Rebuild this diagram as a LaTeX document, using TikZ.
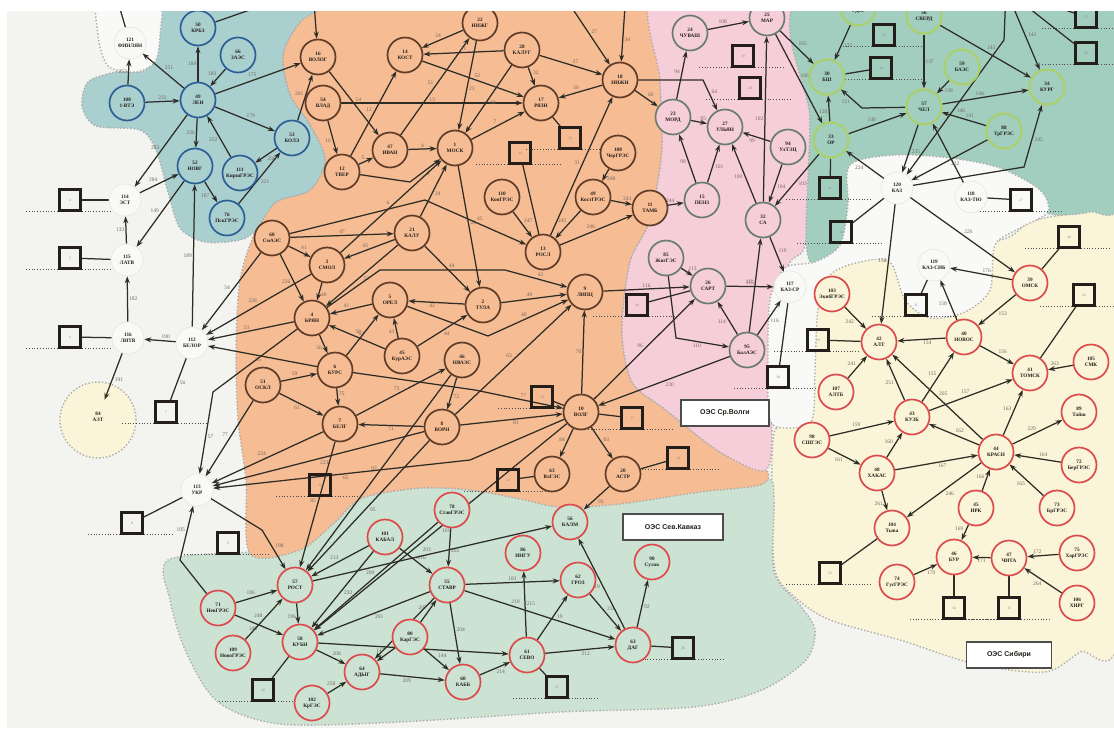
\documentclass[tikz,border=0pt]{standalone}
\usepackage{fontspec}
\setmainfont{Liberation Serif}
\setsansfont{Liberation Sans}
\usetikzlibrary{arrows.meta}
\definecolor{cBg}{RGB}{243,243,240}
\definecolor{cBl}{RGB}{170,207,207}
\definecolor{cOr}{RGB}{246,188,148}
\definecolor{cPk}{RGB}{246,206,218}
\definecolor{cGt}{RGB}{162,206,192}
\definecolor{cYe}{RGB}{250,244,216}
\definecolor{cGb}{RGB}{204,226,210}
\definecolor{cWh}{RGB}{249,249,248}
\definecolor{rBl}{RGB}{45,95,150}
\definecolor{rOr}{RGB}{95,60,40}
\definecolor{rPk}{RGB}{105,125,110}
\definecolor{rGt}{RGB}{170,208,110}
\definecolor{rRd}{RGB}{220,75,75}
\definecolor{cLn}{RGB}{45,45,38}
\definecolor{cLb}{RGB}{115,105,95}
\definecolor{cTx}{RGB}{35,30,25}
\pgfdeclarelayer{bg}
\pgfdeclarelayer{edges}
\pgfsetlayers{bg,edges,main}
\begin{document}
\begin{tikzpicture}[x=1pt,y=-1pt,
  nd/.style={circle,minimum size=35pt,inner sep=0pt,align=center,text=cTx,font=\fontsize{5.2}{5.8}\selectfont\bfseries,line width=1.7pt},
  bn/.style={nd,draw=rBl,fill=cBl},
  on/.style={nd,draw=rOr,fill=cOr},
  pn/.style={nd,draw=rPk,fill=cPk},
  gn/.style={nd,draw=rGt,fill=cGt,line width=2.2pt},
  rn/.style={nd,draw=rRd,fill=cYe},
  kn/.style={nd,draw=rRd,fill=cGb},
  wn/.style={nd,fill=cWh,draw=gray!20,line width=.6pt,minimum size=32pt},
  sq/.style={draw=cTx,line width=2.6pt,minimum size=21pt,inner sep=0pt,text=gray,font=\fontsize{3.5}{4}\selectfont},
  ar/.style={draw=cLn,line width=1.25pt,-{Stealth[length=7pt,width=5pt]}},
  ln/.style={draw=cLn,line width=1.25pt},
  lb/.style={auto,inner sep=1pt,text=cLb,font=\fontsize{5.5}{6}\selectfont},
  reg/.style={draw=gray!65,line width=1.4pt,dotted},
  sul/.style={draw=gray!60!black,line width=.8pt,dotted},
  box/.style={draw=gray!60!black,line width=1.3pt,fill=white,text=cTx,minimum height=26pt,font=\sffamily\bfseries\fontsize{7}{8}\selectfont}]
\useasboundingbox (0,0) rectangle (1114,731);

% regions
\begin{pgfonlayer}{bg}
\fill[cBg] (0,0) rectangle (1114,731);
\draw[reg,fill=cYe] plot[smooth cycle,tension=.5] coordinates {(812,268) (860,250) (905,245) (1000,240) (1030,222) (1070,214) (1120,212) (1120,628) (1080,652) (1045,672) (975,664) (900,640) (830,620) (796,598) (775,570) (772,490) (775,430) (800,420) (810,330)};
\draw[reg,fill=cGb] plot[smooth cycle,tension=.5] coordinates {(168,560) (250,552) (300,548) (335,522) (362,498) (420,488) (470,490) (520,498) (560,506) (620,502) (700,490) (766,478) (774,500) (774,572) (800,605) (815,630) (806,660) (762,690) (694,707) (560,712) (400,722) (280,724) (218,702) (186,652) (170,600)};
\draw[reg,fill=cOr] plot[smooth cycle,tension=.5] coordinates {(335,-8) (656,-8) (660,80) (662,150) (650,220) (630,262) (622,330) (632,382) (666,410) (720,452) (766,470) (760,485) (700,492) (620,504) (560,507) (520,499) (470,490) (420,488) (362,498) (335,522) (300,550) (250,554) (246,480) (238,420) (236,350) (240,280) (256,230) (276,202) (310,190) (325,160) (310,125) (290,95) (283,55) (300,22)};
\draw[reg,fill=cPk] plot[smooth cycle,tension=.5] coordinates {(656,-8) (810,-8) (810,120) (806,240) (790,262) (772,300) (770,360) (772,420) (766,470) (720,452) (666,410) (632,382) (622,330) (630,262) (650,220) (662,150) (660,80)};
\draw[reg,fill=cGt] plot[smooth cycle,tension=.5] coordinates {(808,-8) (1120,-8) (1120,198) (1090,212) (1050,214) (1030,195) (990,168) (940,158) (890,158) (858,170) (848,200) (846,240) (832,266) (815,268) (806,240) (810,120)};
\draw[reg,fill=cBl] plot[smooth cycle,tension=.5] coordinates {(150,-8) (335,-8) (300,22) (283,55) (290,95) (310,125) (325,160) (310,190) (276,202) (256,230) (240,240) (205,242) (180,228) (168,192) (156,150) (140,130) (96,126) (82,106) (88,82) (115,72) (150,66)};
\draw[reg,fill=cWh] plot[smooth cycle,tension=.5] coordinates {(100,-8) (158,-8) (160,35) (155,62) (135,72) (108,66) (98,35)};
\draw[reg,fill=cWh] plot[smooth cycle,tension=.5] coordinates {(850,165) (895,155) (950,158) (1000,168) (1040,190) (1048,212) (1020,228) (995,245) (990,290) (965,312) (930,318) (905,300) (890,262) (860,262) (830,275) (818,310) (815,370) (812,420) (790,428) (770,420) (768,360) (770,300) (785,268) (815,262) (840,245) (848,205)};
\draw[reg,fill=cYe] (98,420) circle (38pt);
\end{pgfonlayer}

% nodes
\node[bn] (pt0) at (313,-12) {};
\node[bn] (n50) at (198,28) {50\\КРБЗ};
\node[bn] (n66) at (238,55) {66\\ЗАЭС};
\node[bn] (n49) at (198,100) {49\\ЛЕН};
\node[bn] (n100) at (127,103) {100\\1-ВТЭ};
\node[bn] (n52) at (195,166) {52\\НОВГ};
\node[bn] (n53) at (292,138) {53\\КОЛЭ};
\node[bn] (n111) at (240,173) {111\\КиршГРЭС};
\node[bn] (n76) at (227,218) {76\\ПскГРЭС};
\node[wn] (n121) at (130,43) {121\\ФИНЛЯН};
\node[wn] (n114) at (125,200) {114\\ЭСТ};
\node[wn] (n115) at (127,260) {115\\ЛАТВ};
\node[wn] (n116) at (128,338) {116\\ЛИТВ};
\node[wn] (n112) at (192,343) {112\\БЕЛОР};
\node[wn] (n113) at (197,490) {113\\УКР};
\node[nd] (n84) at (98,417) {84\\АЭТ};
\node[wn] (n120) at (897,188) {120\\КАЗ};
\node[wn] (n118) at (971,197) {118\\КАЗ-ТЮ};
\node[wn] (n119) at (934,265) {119\\КАЗ-СИБ};
\node[wn] (n117) at (790,287) {117\\КАЗ-СР};

\node[on] (n16) at (318,57) {16\\ВОЛОГ};
\node[on] (n14) at (405,55) {14\\КОСТ};
\node[on] (n22) at (480,23) {22\\НИЖГ};
\node[on] (n28) at (522,50) {28\\КАЛУГ};
\node[on] (pt1) at (560,-10) {};
\node[on] (pt2) at (626,-8) {};
\node[on] (n54) at (323,103) {54\\ВЛАД};
\node[on] (n47) at (390,150) {47\\ИВАН};
\node[on] (n12) at (342,172) {12\\ТВЕР};
\node[on] (n1) at (455,148) {1\\МОСК};
\node[on] (n17) at (541,103) {17\\РЯЗН};
\node[on] (n18) at (620,80) {18\\НИЖН};
\node[on] (n108) at (618,153) {108\\ЧерГРЭС};
\node[on] (n49k) at (593,197) {49\\КостГРЭС};
\node[on] (n110) at (502,197) {110\\КонГРЭС};
\node[on] (n11) at (650,208) {11\\ТАМБ};
\node[on] (n13) at (543,252) {13\\РОСЛ};
\node[on] (n60) at (272,238) {60\\СмАЭС};
\node[on] (n21) at (412,233) {21\\КАЛУ};
\node[on] (n3) at (327,265) {3\\СМОЛ};
\node[on] (n2) at (483,305) {2\\ТУЛА};
\node[on] (n5) at (390,300) {5\\ОРЕЛ};
\node[on] (n4) at (312,318) {4\\БРЯН};
\node[on] (n45k) at (402,356) {45\\КурАЭС};
\node[on] (n6) at (335,370) {6\\КУРС};
\node[on] (n51) at (263,385) {51\\ОСКЛ};
\node[on] (n46n) at (462,360) {46\\НВАЭС};
\node[on] (n7) at (340,424) {7\\БЕЛГ};
\node[on] (n8) at (442,427) {8\\ВОРН};
\node[on] (n9) at (585,292) {9\\ЛИПЦ};
\node[on] (n10) at (581,412) {10\\ВОЛГ};
\node[on] (n20) at (623,474) {20\\АСТР};
\node[on] (n63v) at (552,474) {63\\ВлГЭС};

\node[pn] (n24) at (690,33) {24\\ЧУВАШ};
\node[pn] (n25) at (767,18) {25\\МАР};
\node[pn] (n23) at (673,117) {23\\МОРД};
\node[pn] (n27) at (725,127) {27\\УЛЬЯН};
\node[pn] (n94) at (788,147) {94\\УлТЭЦ};
\node[pn] (n15) at (702,200) {15\\ПЕНЗ};
\node[pn] (n32) at (763,220) {32\\СА};
\node[pn] (n85) at (666,258) {85\\ЖигГЭС};
\node[pn] (n26) at (708,286) {26\\САРТ};
\node[pn] (n95) at (747,350) {95\\БалАЭС};

\node[gn] (n58u) at (858,8) {58\\УДМ};
\node[gn] (n56) at (924,16) {56\\СВЕРД};
\node[gn] (pt3) at (1006,-10) {};
\node[gn] (n30) at (827,77) {30\\БШ};
\node[gn] (n59) at (962,67) {59\\БАЭС};
\node[gn] (n57) at (924,107) {57\\ЧЕЛ};
\node[gn] (n34) at (1047,87) {34\\КУРГ};
\node[gn] (n88) at (1004,131) {88\\ТрГРЭС};
\node[gn] (n33) at (831,140) {33\\ОР};

\node[rn] (n39) at (1030,283) {39\\ОМСК};
\node[rn] (n103) at (832,294) {103\\ЭкибГРЭС};
\node[rn] (n42) at (879,342) {42\\АЛТ};
\node[rn] (n40) at (964,337) {40\\НОВОС};
\node[rn] (n41) at (1030,373) {41\\ТОМСК};
\node[rn] (n105) at (1091,362) {105\\СМК};
\node[rn] (n107) at (836,392) {107\\АЛТБ};
\node[rn] (n43) at (912,417) {43\\КУЗБ};
\node[rn] (n89) at (1079,412) {89\\Тайш};
\node[rn] (n98) at (812,440) {98\\СШГЭС};
\node[rn] (n48) at (877,473) {48\\ХАКАС};
\node[rn] (n44) at (996,452) {44\\КРАСН};
\node[rn] (n72) at (1079,465) {72\\БерГРЭС};
\node[rn] (n45) at (976,508) {45\\ИРК};
\node[rn] (n73) at (1057,508) {73\\БрГРЭС};
\node[rn] (n104) at (892,528) {104\\Тыва};
\node[rn] (n46) at (954,557) {46\\БУР};
\node[rn] (n47s) at (1009,558) {47\\ЧИТА};
\node[rn] (n75) at (1077,553) {75\\ХарГРЭС};
\node[rn] (n74) at (897,582) {74\\ГусГРЭС};
\node[rn] (n106) at (1077,603) {106\\ХИРГ};

\node[kn] (n78) at (452,510) {78\\СтавГРЭС};
\node[kn] (n101) at (385,537) {101\\КАБАЛ};
\node[kn] (n56k) at (570,522) {56\\КАЛМ};
\node[kn] (n57r) at (295,585) {57\\РОСТ};
\node[kn] (n55) at (447,585) {55\\СТАВР};
\node[kn] (n86) at (523,553) {86\\ИНГУ};
\node[kn] (n62) at (578,580) {62\\ГРОЗ};
\node[kn] (n90) at (652,562) {90\\Сулак};
\node[kn] (n71) at (218,608) {71\\НевГРЭС};
\node[kn] (n58k) at (300,642) {58\\КУБН};
\node[kn] (n80) at (410,637) {80\\КарГЭС};
\node[kn] (n64) at (362,672) {64\\АДЫГ};
\node[kn] (n60k) at (463,682) {60\\КАББ};
\node[kn] (n61) at (527,655) {61\\СЕВО};
\node[kn] (n63) at (633,645) {63\\ДАГ};
\node[kn] (n109) at (233,653) {109\\НовоГРЭС};
\node[kn] (n102) at (312,703) {102\\КрГЭС};

% squares
\node[sq] (s1) at (70,200) {4};
\node[sq] (s2) at (70,258) {5};
\node[sq] (s3) at (70,337) {6};
\node[sq] (s4) at (166,412) {7};
\node[sq] (s5) at (132,523) {8};
\node[sq] (s6) at (228,543) {9};
\node[sq] (s7) at (263,690) {10};
\node[sq] (s8) at (320,485) {11};
\node[sq] (s9) at (508,480) {12};
\node[sq] (s10) at (542,397) {13};
\node[sq] (s11) at (520,153) {14};
\node[sq] (s12) at (570,138) {15};
\node[sq] (s13) at (637,305) {16};
\node[sq] (s14) at (632,418) {17};
\node[sq] (s15) at (678,458) {18};
\node[sq] (s16) at (743,56) {19};
\node[sq] (s17) at (750,88) {20};
\node[sq] (s18) at (830,188) {21};
\node[sq] (s19) at (841,232) {22};
\node[sq] (s20) at (884,35) {23};
\node[sq] (s21) at (881,68) {24};
\node[sq] (s22) at (1086,17) {25};
\node[sq] (s23) at (1086,53) {26};
\node[sq] (s24) at (1021,200) {27};
\node[sq] (s25) at (1069,237) {28};
\node[sq] (s26) at (818,340) {29};
\node[sq] (s27) at (778,377) {30};
\node[sq] (s28) at (916,305) {31};
\node[sq] (s29) at (1084,295) {32};
\node[sq] (s30) at (830,573) {33};
\node[sq] (s31) at (954,608) {34};
\node[sq] (s32) at (1009,608) {35};
\node[sq] (s33) at (683,648) {36};
\node[sq] (s34) at (557,687) {37};

% labels of the systems
\node[box,minimum width=88pt] (bxV) at (725,413) {ОЭС Ср.Волги};
\node[box,minimum width=100pt] (bxK) at (673,527) {ОЭС Сев.Кавказ};
\node[box,minimum width=85pt] (bxS) at (1009,655) {ОЭС Сибири};

\coordinate (c121) at (116,-5);

\begin{pgfonlayer}{edges}
\foreach \s in {s1,s2,s3,s4,s5,s6,s7,s8,s9,s10,s11,s12,s13,s14,s15,s16,s17,s18,s19,s20,s21,s22,s23,s24,s25,s26,s27,s28,s29,s30,s31,s32,s33,s34}
  \draw[sul] ([xshift=-44pt]\s.south) -- ([xshift=42pt]\s.south);

% north-west
\draw[ln] (n121) -- (c121);
\draw[ar] (n49) -- node[lb]{184} (n50);
\draw[ar] (n66) -- node[lb,swap]{183} (n49);
\draw[ar] (n49) -- node[lb,swap]{251} (n121);
\draw[ar] (n100) -- node[lb]{232} (n49);
\draw[ar] (n100) -- node[lb]{253} (n121);
\draw[ar] (n49) -- node[lb,swap]{283} (n114);
\draw[ar] (n49) -- node[lb,swap]{236} (n52);
\draw[ar] (n111) -- node[lb]{252} (n49);
\draw[ar] (n49) -- node[lb]{179} (n53);
\draw[ar] (n53) -- node[lb]{256} (n111);
\draw[ar] (n52) -- node[lb,swap]{187} (n76);
\draw[ar] (n76) -- node[lb,swap]{221} (n53);
\draw[ar] (n114) -- node[lb]{284} (n52);
\draw[ar] (n52) -- node[lb,swap]{149} (n115);
\draw[ar] (n112) -- node[lb]{189} (n52);
\draw[ar] (n115) -- node[lb]{133} (n114);
\draw[ar] (n116) -- node[lb,swap]{182} (n115);
\draw[ar] (n112) -- node[lb,swap]{190} (n116);
\draw[ar] (n116) -- node[lb]{191} (n84);
\draw[ar] (n49) -- node[lb]{175} (n16);
\draw[ar] (n53) -- node[lb]{201} (n16);
\draw[ar] (n50) -- node[lb]{231} (pt0);
\draw[ar] (pt0) -- (n16);
\draw[ln] (n114) -- (s1);
\draw[ln] (n115) -- (s2);
\draw[ln] (n116) -- (s3);
\draw[ln] (n112) -- node[lb]{56} (s4);
\draw[ln] (n113) -- (s5);

% centre to the west
\draw[ar] (n60) -- node[lb,swap]{54} (n112);
\draw[ar] (n3) -- node[lb,swap]{228} (n112);
\draw[ar] (n4) -- node[lb,swap]{53} (n112);
\draw[ar] (n6) -- node[lb]{55} (n112);
\draw[ar] (n4) -- (213,392) -- node[lb]{57} (n113);
\draw[ar] (n51) -- node[lb,swap]{77} (n113);
\draw[ar] (n7) -- node[lb,swap]{224} (n113);
\draw[ar] (n8) -- node[lb]{223} (n113);
\draw[ar] (n10) -- (470,460) -- node[lb]{65} (n113);

% centre
\draw[ar] (n12) -- node[lb]{12} (n14);
\draw[ar] (n16) -- node[lb]{14} (n47);
\draw[ar] (n54) -- node[lb,swap]{16} (n12);
\draw[ar] (n54) -- node[lb]{13} (n17);
\draw[ar] (n47) -- node[lb]{51} (n22);
\draw[ar] (n12) -- node[lb]{5} (n47);
\draw[ar] (n47) -- node[lb]{4} (n1);
\draw[ar] (n12) -- (410,182) -- node[lb,swap]{8} (n1);
\draw[ar] (n28) -- node[lb,swap]{21} (n14);
\draw[ar] (n22) -- node[lb,swap]{24} (n14);
\draw[ar] (n14) -- node[lb]{52} (n17);
\draw[ar] (n22) -- node[lb]{23} (n1);
\draw[ar] (n28) -- node[lb]{30} (n1);
\draw[ar] (n28) -- node[lb]{32} (n17);
\draw[ar] (n1) -- node[lb]{7} (n17);
\draw[ar] (n18) -- node[lb,swap]{50} (n17);
\draw[ar] (pt1) -- node[lb]{27} (n18);
\draw[ar] (pt2) -- node[lb]{34} (n18);
\draw[ar] (n28) -- node[lb]{37} (n18);
\draw[ar] (n18) -- node[lb]{60} (n23);
\draw[ar] (n18) -- (703,80) -- node[lb]{64} (n27);
\draw[ar] (n13) -- node[lb]{31} (n18);
\draw[ar] (n1) -- node[lb]{26} (n2);
\draw[ar] (n3) -- node[lb]{6} (n1);
\draw[ar] (n21) -- node[lb,swap]{24} (n1);
\draw[ar] (n60) -- node[lb]{47} (n21);
\draw[ar] (n110) -- node[lb]{247} (n13);
\draw[ar] (n49k) -- node[lb,swap]{245} (n13);
\draw[ar] (n49k) -- node[lb]{243} (n11);
\draw[ar] (n108) -- node[lb]{248} (n49k);
\draw[ar] (n13) -- node[lb]{246} (n11);
\draw[ar] (n11) -- node[lb]{244} (n15);
\draw[ar] (n60) -- (425,200) -- node[lb]{45} (n13);
\draw[ar] (n60) -- node[lb]{41} (n3);
\draw[ar] (n21) -- node[lb,swap]{43} (n3);
\draw[ar] (n3) -- node[lb]{40} (n4);
\draw[ar] (n60) -- node[lb,swap]{226} (n4);
\draw[ar] (n21) -- node[lb]{44} (n2);
\draw[ar] (n21) -- node[lb]{52} (n4);
\draw[ar] (n4) -- (380,270) -- (505,270) -- node[lb]{42} (n9);
\draw[ar] (n5) -- node[lb,swap]{41} (n4);
\draw[ar] (n2) -- node[lb]{42} (n5);
\draw[ar] (n45k) -- node[lb]{43} (n5);
\draw[ar] (n5) -- (488,336) -- node[lb]{40} (n9);
\draw[ar] (n45k) -- node[lb,swap]{44} (n2);
\draw[ar] (n45k) -- node[lb,swap]{63} (n4);
\draw[ar] (n6) -- node[lb]{58} (n5);
\draw[ar] (n4) -- node[lb,swap]{56} (n6);
\draw[ar] (n6) -- node[lb]{75} (n7);
\draw[ar] (n6) -- (475,390) -- node[lb]{77} (n10);
\draw[ar] (n7) -- node[lb]{73} (n46n);
\draw[ar] (n46n) -- node[lb]{72} (n8);
\draw[ar] (n8) -- node[lb]{71} (n7);
\draw[ar] (n8) -- node[lb,swap]{81} (n10);
\draw[ar] (n8) -- node[lb]{63} (n9);
\draw[ar] (n2) -- node[lb]{49} (n9);
\draw[ar] (n10) -- node[lb]{70} (n9);
\draw[ar] (n10) -- node[lb]{83} (n20);
\draw[ar] (n10) -- node[lb,swap]{84} (n63v);
\draw[ar] (n10) -- node[lb]{96} (n26);
\draw[ar] (n9) -- node[lb]{116} (n26);
\draw[ar] (n95) -- node[lb]{230} (n10);
\draw[ar] (n51) -- node[lb]{59} (n6);
\draw[ar] (n51) -- node[lb,swap]{61} (n7);
\draw[ar] (n7) -- node[lb,swap]{85} (n57r);
\draw[ar] (n8) -- node[lb]{95} (n57r);
\draw[ar] (n10) -- node[lb]{101} (n58k);
\draw[ar] (n46n) -- node[lb,swap]{97} (n57r);
\draw[ar] (n20) -- node[lb]{93} (n56k);
\draw[ln] (n63v) -- (s9);
\draw[ln] (n10) -- (s10);
\draw[ln] (s11) -- (n13);
\draw[ln] (n17) -- (s12);
\draw[ln] (n10) -- (s14);
\draw[ln] (n20) -- (s15);

% middle Volga
\draw[ar] (n23) -- node[lb]{94} (n24);
\draw[ar] (n24) -- node[lb]{108} (n25);
\draw[ar] (n23) -- node[lb]{95} (n27);
\draw[ar] (n94) -- node[lb]{99} (n27);
\draw[ar] (n15) -- node[lb]{98} (n23);
\draw[ar] (n15) -- node[lb,swap]{101} (n27);
\draw[ar] (n32) -- node[lb]{100} (n27);
\draw[ar] (n85) -- node[lb]{113} (n26);
\draw[ar] (n26) -- node[lb]{115} (n117);
\draw[ar] (n95) -- node[lb]{114} (n26);
\draw[ar] (n95) -- node[lb,swap]{116} (n117);
\draw[ar] (n95) -- node[lb]{111} (n32);
\draw[ar] (n85) -- (676,338) -- node[lb,swap]{110} (n95);
\draw[ar] (n32) -- node[lb]{119} (n117);
\draw[ar] (n25) -- node[lb]{105} (n30);
\draw[ar] (n25) -- node[lb]{106} (n33);
\draw[ar] (n32) -- node[lb]{102} (n25);
\draw[ar] (n33) -- node[lb]{103} (n32);
\draw[ar] (n94) -- node[lb]{104} (n32);
\draw[ar] (n33) -- node[lb]{120} (n30);
\draw[ln] (n26) -- (s13);
\draw[ln] (n117) -- (s27);

% Urals
\draw[ar] (n58u) -- node[lb]{122} (n30);
\draw[ar] (n56) -- node[lb]{137} (n57);
\draw[ar] (n59) -- node[lb]{138} (n57);
\draw[ar] (n56) -- node[lb]{143} (n34);
\draw[ar] (pt3) -- node[lb]{142} (n34);
\draw[ar] (n57) -- node[lb]{144} (n34);
\draw[ar] (n88) -- node[lb,swap]{141} (n57);
\draw[ar] (n57) -- (862,108) -- node[lb]{121} (n30);
\draw[ar] (n33) -- node[lb]{148} (n57);
\draw[ar] (n57) -- node[lb]{235} (n120);
\draw[ar] (n118) -- (n57);
\draw[ar] (n88) -- node[lb]{222} (n120);
\draw[ar] (n120) -- (1024,167) -- node[lb,swap]{245} (n34);
\draw[ar] (n120) -- node[lb]{224} (n33);
\draw[ar] (pt3) -- (1004,40) -- node[lb]{146} (n120);
\draw[ln] (n30) -- (s21);
\draw[ln] (pt3) -- (s22);
\draw[ln] (pt3) -- (s23);
\draw[ln] (n33) -- (s18);
\draw[ln] (n120) -- (s19);
\draw[ln] (n118) -- (s24);

% Siberia
\draw[ar] (n120) -- node[lb,swap]{150} (n42);
\draw[ar] (n120) -- node[lb]{226} (n39);
\draw[ar] (n39) -- node[lb,swap]{176} (n119);
\draw[ar] (n40) -- node[lb]{158} (n119);
\draw[ar] (n39) -- node[lb]{153} (n40);
\draw[ar] (n40) -- node[lb]{154} (n42);
\draw[ar] (n40) -- node[lb]{156} (n41);
\draw[ar] (n103) -- node[lb,swap]{242} (n42);
\draw[ar] (n107) -- node[lb]{241} (n42);
\draw[ar] (n43) -- node[lb]{251} (n42);
\draw[ar] (n43) -- node[lb]{155} (n40);
\draw[ar] (n43) -- node[lb]{157} (n41);
\draw[ar] (n44) -- node[lb,swap]{205} (n42);
\draw[ar] (n44) -- node[lb,swap]{162} (n43);
\draw[ar] (n44) -- node[lb]{163} (n41);
\draw[ar] (n105) -- node[lb,swap]{263} (n41);
\draw[ar] (n44) -- node[lb]{229} (n89);
\draw[ar] (n72) -- node[lb,swap]{164} (n44);
\draw[ar] (n98) -- node[lb]{159} (n43);
\draw[ar] (n98) -- node[lb,swap]{161} (n48);
\draw[ar] (n48) -- node[lb]{160} (n43);
\draw[ar] (n48) -- node[lb,swap]{167} (n44);
\draw[ar] (n48) -- node[lb,swap]{261} (n104);
\draw[ar] (n44) -- node[lb]{246} (n104);
\draw[ar] (n73) -- node[lb]{165} (n44);
\draw[ar] (n45) -- node[lb]{166} (n44);
\draw[ar] (n45) -- node[lb,swap]{169} (n46);
\draw[ar] (n47s) -- node[lb]{171} (n46);
\draw[ar] (n75) -- node[lb,swap]{172} (n47s);
\draw[ar] (n106) -- node[lb]{264} (n47s);
\draw[ar] (n74) -- node[lb,swap]{170} (n46);
\draw[ln] (n104) -- (s30);
\draw[ln] (n46) -- (s31);
\draw[ln] (n47s) -- (s32);
\draw[ln] (n42) -- (s26);
\draw[ln] (n119) -- (s28);
\draw[ln] (n39) -- (s25);
\draw[ln] (n41) -- (s29);

% North Caucasus
\draw[ar] (n78) -- node[lb]{202} (n55);
\draw[ar] (n78) -- node[lb,swap]{200} (n58k);
\draw[ar] (n101) -- node[lb,swap]{213} (n57r);
\draw[ar] (n101) -- node[lb]{216} (n55);
\draw[ar] (n101) -- node[lb]{232} (n58k);
\draw[ar] (n57r) -- node[lb,swap]{196} (n58k);
\draw[ar] (n57r) -- node[lb]{203} (n56k);
\draw[ar] (n55) -- node[lb]{201} (n58k);
\draw[ar] (n55) -- node[lb]{206} (n64);
\draw[ar] (n55) -- node[lb]{204} (n60k);
\draw[ar] (n55) -- node[lb]{181} (n62);
\draw[ar] (n55) -- node[lb,pos=.3]{210} (n63);
\draw[ar] (n80) -- node[lb]{207} (n55);
\draw[ar] (n80) -- node[lb,swap]{147} (n64);
\draw[ar] (n80) -- node[lb]{144} (n60k);
\draw[ar] (n58k) -- node[lb]{208} (n64);
\draw[ar] (n58k) -- node[lb]{132} (n61);
\draw[ar] (n64) -- node[lb,swap]{209} (n60k);
\draw[ar] (n60k) -- node[lb,swap]{214} (n61);
\draw[ar] (n61) -- node[lb,swap]{215} (n86);
\draw[ar] (n61) -- node[lb,swap]{212} (n63);
\draw[ar] (n62) -- node[lb]{211} (n63);
\draw[ar] (n63) -- node[lb,swap]{92} (n90);
\draw[ar] (n63) -- node[lb]{219} (n56k);
\draw[ar] (n61) -- node[lb,swap,pos=.6]{19} (n62);
\draw[ar] (n102) -- node[lb]{258} (n64);
\draw[ar] (n71) -- node[lb]{186} (n57r);
\draw[ar] (n71) -- node[lb,swap]{249} (n58k);
\draw[ar] (n109) -- node[lb]{248} (n57r);
\draw[ar] (n71) -- (180,560) -- node[lb]{195} (n113);
\draw[ar] (n113) -- (262,530) -- node[lb]{198} (n57r);
\draw[ln] (n58k) -- (s7);
\draw[ln] (n61) -- (s34);
\draw[ln] (n63) -- (s33);
\end{pgfonlayer}

% white frame
\fill[white] (0,0) rectangle (1114,11);
\fill[white] (0,0) rectangle (7,731);
\fill[white] (0,728) rectangle (1114,731);
\end{tikzpicture}
\end{document}
